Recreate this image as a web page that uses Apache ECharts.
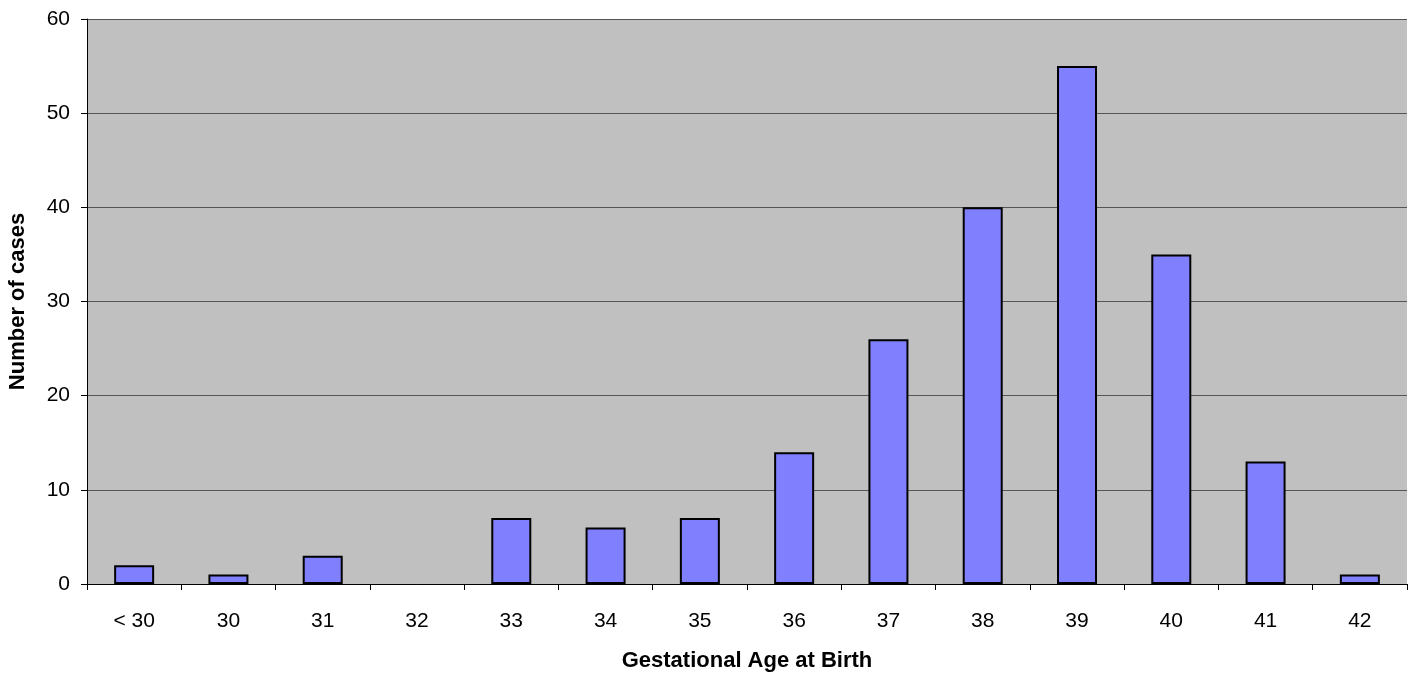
<!DOCTYPE html>
<html><head><meta charset="utf-8">
<script src="https://cdn.jsdelivr.net/npm/echarts@6/dist/echarts.min.js"></script>
<style>html,body{margin:0;padding:0;background:#fff}#c{width:1412px;height:673px}</style>
</head><body><div id="c"></div>
<script>
const categories = ['< 30','30','31','32','33','34','35','36','37','38','39','40','41','42'];
const cases = [2,1,3,0,7,6,7,14,26,40,55,35,13,1];
const yTicks = {min:0,max:60,interval:10};
const chart = echarts.init(document.getElementById('c'));
chart.setOption({
  animation:false,
  backgroundColor:'#ffffff',
  grid:{left:87,right:5,top:19,bottom:89,show:true,backgroundColor:'#c0c0c0',borderWidth:0,
    containLabel:false,outerBoundsMode:'none'},
  xAxis:{type:'category',data:categories,boundaryGap:true,
    name:'Gestational Age at Birth',nameLocation:'middle',nameGap:66,
    nameTextStyle:{fontFamily:'Liberation Sans, Arial',fontWeight:'bold',fontSize:22,color:'#000'},
    axisLine:{lineStyle:{color:'#000',width:1}},
    axisTick:{show:true,length:6,lineStyle:{color:'#000'},alignWithLabel:false},
    axisLabel:{fontFamily:'Liberation Sans, Arial',fontSize:21,color:'#000',margin:27}},
  yAxis:{type:'value',min:yTicks.min,max:yTicks.max,interval:yTicks.interval,
    name:'Number of cases',nameLocation:'middle',nameGap:58,nameRotate:90,
    nameTextStyle:{fontFamily:'Liberation Sans, Arial',fontWeight:'bold',fontSize:22,color:'#000'},
    axisLine:{show:true,lineStyle:{color:'#000',width:1}},
    axisTick:{show:true,length:6,lineStyle:{color:'#000'}},
    splitLine:{show:true,lineStyle:{color:'#555',width:1}},
    axisLabel:{fontFamily:'Liberation Sans, Arial',fontSize:21,color:'#000',margin:17}},
  series:[{type:'bar',barWidth:40,
    data:cases.map(v => v === 0 ? {value:v, itemStyle:{borderWidth:0}} : v),
    itemStyle:{color:'#8080ff',borderColor:'#000',borderWidth:2}}]
});
</script></body></html>
